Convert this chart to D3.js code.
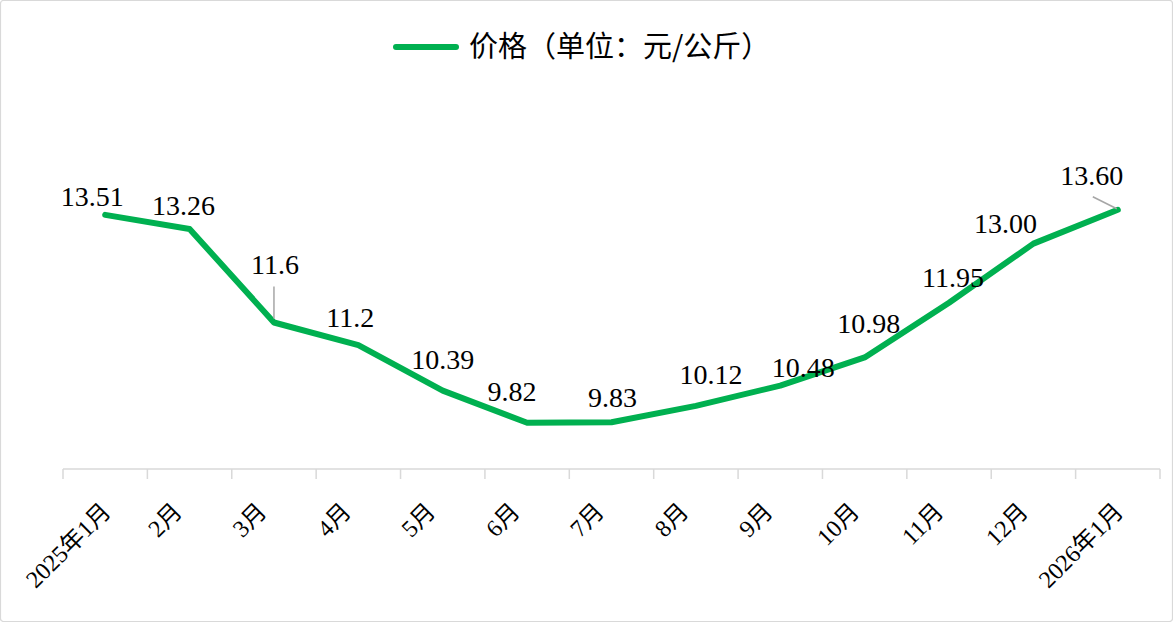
<!DOCTYPE html>
<html><head><meta charset="utf-8">
<script src="https://cdn.jsdelivr.net/npm/d3@7"></script>
<style>
html,body{margin:0;padding:0;background:#fff;}
svg{display:block;}
</style></head>
<body>
<svg id="chart" width="1173" height="622"></svg>
<script>
// ---- data ----
const categories = ["2025年1月","2月","3月","4月","5月","6月","7月","8月","9月","10月","11月","12月","2026年1月"];
const prices = [13.51,13.26,11.6,11.2,10.39,9.82,9.83,10.12,10.48,10.98,11.95,13.00,13.60];
const priceLabels = ["13.51","13.26","11.6","11.2","10.39","9.82","9.83","10.12","10.48","10.98","11.95","13.00","13.60"];
const seriesName = "价格（单位：元/公斤）";

// ---- layout (label placement relative to point) ----
const labelOffsets = [[-13,-9],[-6,-14],[1,-48],[-8,-18],[0,-22],[-15,-22],[1,-15],[15,-22],[23,-9],[4,-24],[4,-16],[-28,-11],[-26,-25]];

const svg = d3.select("#chart");
const W = 1173, H = 622;
const green = "#00b050";
const axisY = 469;

svg.append("rect").attr("x",0.5).attr("y",0.5).attr("width",W-1).attr("height",H-1)
  .attr("rx",3).attr("fill","#fff").attr("stroke","#d9d9d9").attr("stroke-width",1.2);

const x = d3.scaleBand().domain(categories).range([63,1160]).paddingInner(0).paddingOuter(0);
const y = d3.scaleLinear().domain([9,15]).range([axisY,axisY-6*56.35]);
const cx = d => x(d) + x.bandwidth()/2;

// axis
const axisG = svg.append("g").attr("transform",`translate(0,${axisY})`);
axisG.append("line").attr("x1",63).attr("x2",1160).attr("y1",0).attr("y2",0)
  .attr("stroke","#d9d9d9").attr("stroke-width",1.5);
const tickPos = categories.map(c => x(c)).concat([x.range()[1]]);
axisG.selectAll("line.tick").data(tickPos).enter().append("line")
  .attr("class","tick").attr("x1",d=>d).attr("x2",d=>d).attr("y1",0).attr("y2",10)
  .attr("stroke","#d9d9d9").attr("stroke-width",1.5);
const tl = axisG.selectAll("text.tl").data(categories).enter().append("text")
  .attr("class","tl")
  .attr("text-anchor","end")
  .attr("font-family","'Liberation Serif','Noto Sans CJK SC',serif")
  .attr("font-size",24)
  .attr("fill","#000")
  .text(d=>d);
tl.attr("transform",function(d){
  const w = this.getComputedTextLength();
  const shift = -6 + 0.18*(w-36);
  return `translate(${cx(d)+shift},${44}) rotate(-45)`;
});

// line
const pts = categories.map((c,i)=>({c, v: prices[i], i}));
const line = d3.line().x(d=>cx(d.c)).y(d=>y(d.v));
svg.append("path").datum(pts).attr("d",line).attr("fill","none")
  .attr("stroke",green).attr("stroke-width",6).attr("stroke-linejoin","round").attr("stroke-linecap","round");

// leader lines
svg.append("line").attr("x1",cx(categories[2])).attr("x2",cx(categories[2]))
  .attr("y1",y(prices[2])-4).attr("y2",y(prices[2])-36).attr("stroke","#a6a6a6").attr("stroke-width",1.5);
svg.append("line").attr("x1",cx(categories[12])-25).attr("y1",y(prices[12])-13)
  .attr("x2",cx(categories[12])-1).attr("y2",y(prices[12])-1).attr("stroke","#a6a6a6").attr("stroke-width",1.5);

// labels
svg.selectAll("text.dl").data(pts).enter().append("text")
  .attr("class","dl")
  .attr("x",d=>cx(d.c)+labelOffsets[d.i][0])
  .attr("y",d=>y(d.v)+labelOffsets[d.i][1])
  .attr("text-anchor","middle")
  .attr("font-family","'Liberation Serif','Times New Roman',serif")
  .attr("font-size",28)
  .attr("fill","#000")
  .text(d=>priceLabels[d.i]);

// legend
const lg = svg.append("g");
lg.append("line").attr("x1",396).attr("x2",456).attr("y1",47).attr("y2",47)
  .attr("stroke",green).attr("stroke-width",6).attr("stroke-linecap","round");
lg.append("text").attr("x",469).attr("y",57)
  .attr("font-family","'Noto Sans CJK SC','Liberation Serif',sans-serif")
  .attr("font-size",29).attr("fill","#000").text(seriesName);
</script>
</body></html>
